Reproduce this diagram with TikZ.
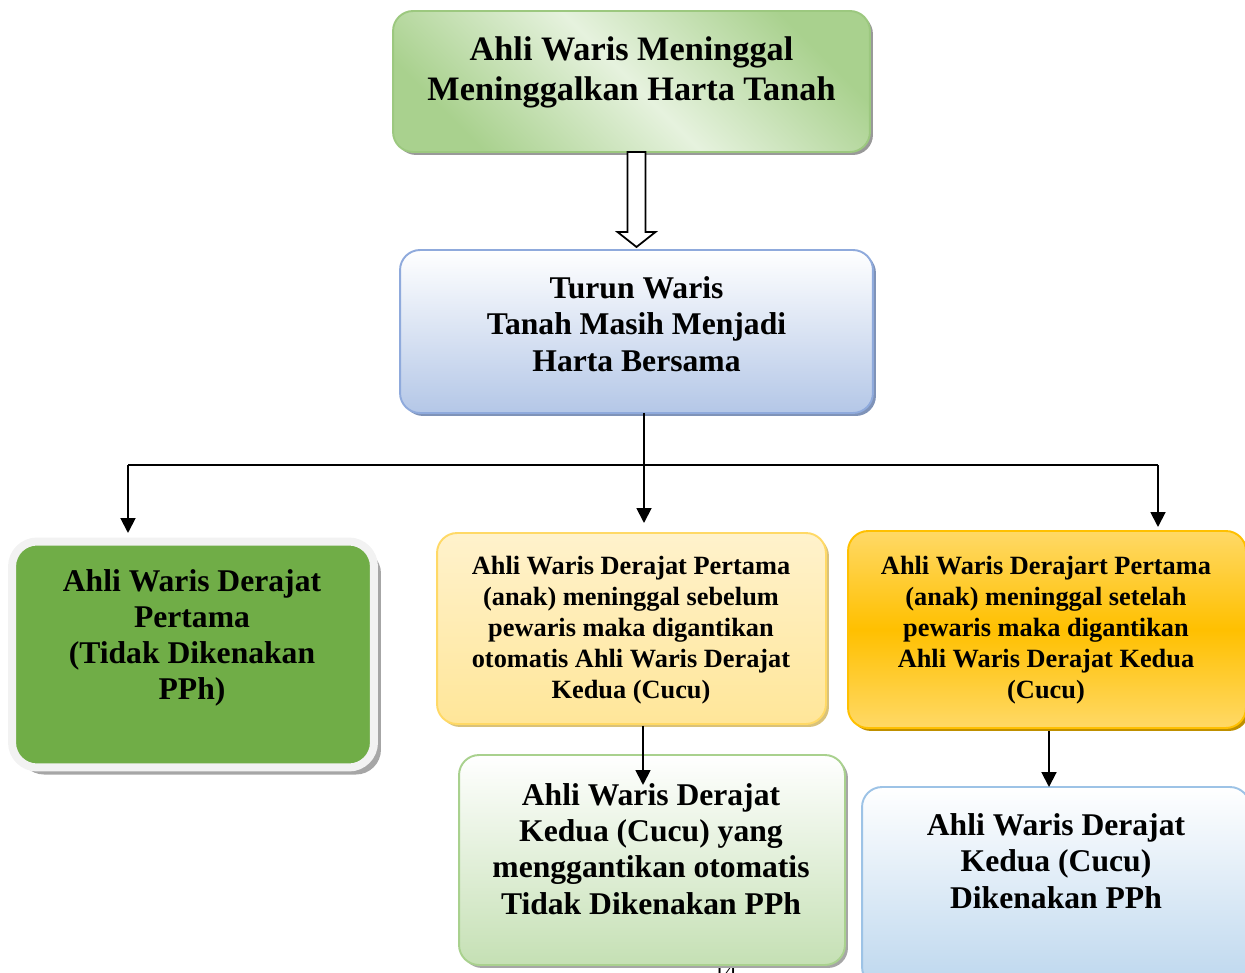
\documentclass[tikz,border=0pt]{standalone}
\usepackage{fontspec}
\setmainfont{Liberation Serif}
\usetikzlibrary{arrows.meta, shadows}

\definecolor{hijauTua}{HTML}{A9D18E}
\definecolor{hijauMuda}{HTML}{E6F2DE}
\definecolor{hijauGaris}{HTML}{9CC87F}
\definecolor{hijauDaun}{HTML}{70AD47}
\definecolor{hijauBawah}{HTML}{C5E0B4}
\definecolor{biruTua}{HTML}{B4C7E7}
\definecolor{biruGaris}{HTML}{8FAADC}
\definecolor{biruBayang}{HTML}{7F93B8}
\definecolor{biruLangit}{HTML}{BDD7EE}
\definecolor{biruLangitGaris}{HTML}{9DC3E6}
\definecolor{kuningMuda}{HTML}{FFF2CC}
\definecolor{kuningTua}{HTML}{FFE699}
\definecolor{kuningGaris}{HTML}{FFD966}
\definecolor{kuningBayang}{HTML}{D9C27A}
\definecolor{oranye}{HTML}{FFC000}
\definecolor{oranyeBayang}{HTML}{BF9000}

\newcommand{\hurufBesar}{\fontsize{19.5}{22.8}\selectfont\bfseries}
\newcommand{\hurufSedang}{\fontsize{18}{20.6}\selectfont\bfseries}
\newcommand{\hurufKecil}{\fontsize{15}{17.6}\selectfont\bfseries}

\begin{document}
\begin{tikzpicture}[x=0.02cm, y=-0.02cm,
  >={Triangle[length=8.5pt, width=8.5pt]},
  kotak/.style={rectangle, rounded corners=0.4cm, inner sep=0pt, outer sep=0pt, line width=1.1pt},
  teks/.style={align=center, inner sep=0pt},
  panah/.style={->, line width=1.1pt}]
  \useasboundingbox (0,0) rectangle (1245,973);
  \clip (0,0) rectangle (1245,973);
  % page number, mostly cut off
  \node[font=\fontsize{13}{15}\selectfont] (hal) at (725,971) {14};
  % top box
  \node[kotak, draw=hijauGaris, left color=hijauTua, right color=hijauTua, middle color=hijauMuda, shading angle=135,
    drop shadow={shadow xshift=1.7pt, shadow yshift=-1.7pt, fill=black!40, opacity=1},
    minimum width=9.54cm, minimum height=2.82cm] (atas) at (631.5,81.5) {};
  \node[teks, font=\hurufBesar] (atas-t) at (631.5,72) {Ahli Waris Meninggal\\Meninggalkan Harta Tanah};
  % second box
  \node[kotak, draw=biruGaris, top color=white, bottom color=biruTua,
    drop shadow={shadow xshift=1.7pt, shadow yshift=-1.7pt, fill=biruBayang, opacity=1},
    minimum width=9.46cm, minimum height=3.26cm] (biru) at (636.5,331.5) {};
  \node[teks, font=\hurufSedang] (biru-t) at (636.5,324) {Turun Waris\\Tanah Masih Menjadi\\Harta Bersama};
  % hollow arrow
  \draw[fill=white, line width=1pt] (atas.south -| biru.north) ++(-9,0) -- ++(0,80) -- ++(-10,0)
    -- ++(19,15) -- ++(19,-15) -- ++(-10,0) -- ++(0,-80) -- cycle;
  % left box
  \node[kotak, rounded corners=0.5cm, fill=hijauDaun, draw=black!5, line width=0.16cm,
    drop shadow={shadow xshift=4pt, shadow yshift=-4pt, fill=black!35, opacity=1},
    minimum width=7.24cm, minimum height=4.52cm] (pertama) at (193,654.5) {};
  \node[teks, font=\hurufSedang] (pertama-t) at (192,638) {Ahli Waris Derajat\\Pertama\\(Tidak Dikenakan\\PPh)};
  % middle box
  \node[kotak, draw=kuningGaris, top color=kuningMuda, bottom color=kuningTua,
    drop shadow={shadow xshift=1.7pt, shadow yshift=-1.7pt, fill=kuningBayang, opacity=1},
    minimum width=7.78cm, minimum height=3.82cm] (kuning) at (631.5,628.5) {};
  \node[teks, font=\hurufKecil] (kuning-t) at (631,630) {Ahli Waris Derajat Pertama\\(anak) meninggal sebelum\\pewaris maka digantikan\\otomatis Ahli Waris Derajat\\Kedua (Cucu)};
  % right box
  \node[kotak, draw=oranye, top color=kuningGaris, bottom color=kuningGaris, middle color=oranye,
    drop shadow={shadow xshift=1.7pt, shadow yshift=-1.7pt, fill=oranyeBayang, opacity=1},
    minimum width=7.96cm, minimum height=3.94cm] (oranye) at (1047,629.5) {};
  \node[teks, font=\hurufKecil] (oranye-t) at (1046,630) {Ahli Waris Derajart Pertama\\(anak) meninggal setelah\\pewaris maka digantikan\\Ahli Waris Derajat Kedua\\(Cucu)};
  % lower middle box
  \node[kotak, draw=hijauTua, top color=white, bottom color=hijauBawah,
    drop shadow={shadow xshift=1.7pt, shadow yshift=-1.7pt, fill=black!35, opacity=1},
    minimum width=7.72cm, minimum height=4.2cm] (cucu) at (652,860) {};
  \node[teks, font=\hurufSedang] (cucu-t) at (651,849) {Ahli Waris Derajat\\Kedua (Cucu) yang\\menggantikan otomatis\\Tidak Dikenakan PPh};
  % lower right box
  \node[kotak, draw=biruLangitGaris, top color=white, bottom color=biruLangit,
    minimum width=7.76cm, minimum height=4cm] (cucu2) at (1056,887) {};
  \node[teks, font=\hurufSedang] (cucu2-t) at (1056,861) {Ahli Waris Derajat\\Kedua (Cucu)\\Dikenakan PPh};
  % connectors
  \coordinate (cabang) at (644,465);
  \coordinate (kiri) at (128,465);
  \coordinate (kanan) at (1158,465);
  \draw[line width=1.1pt] (biru.south -| cabang) -- (cabang);
  \draw[line width=1.1pt] (kiri) -- (kanan);
  \draw[panah] (kiri) -- ++(0,68);
  \draw[panah] (cabang) -- ++(0,58);
  \draw[panah] (kanan) -- ++(0,62);
  \draw[panah] (kuning.south) ++(11.5,2) -- ++(0,59);
  \draw[panah] (oranye.south) ++(2,3) -- (cucu2.north -| 1049,0);
\end{tikzpicture}
\end{document}
